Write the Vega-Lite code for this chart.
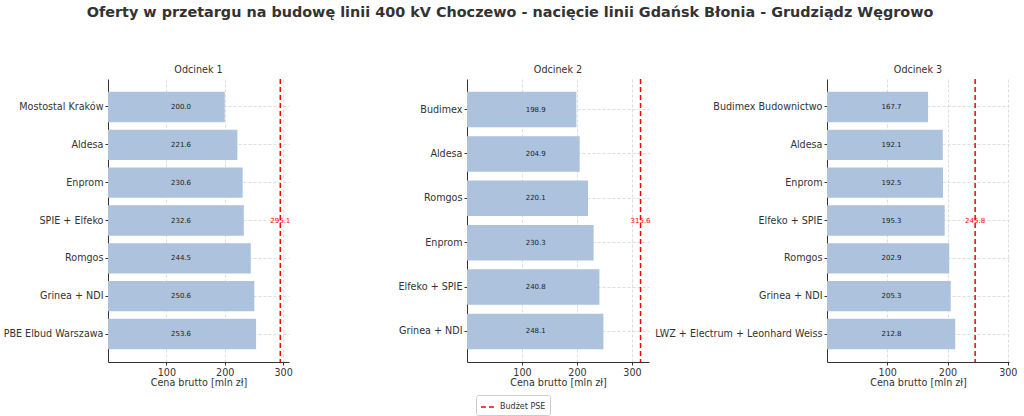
{
  "$schema": "https://vega.github.io/schema/vega-lite/v6.json",
  "padding": {"left": 3, "top": 5, "right": 5, "bottom": 5},
  "background": "white",
  "title": {
    "text": "Oferty w przetargu na budowę linii 400 kV Choczewo - nacięcie linii Gdańsk Błonia - Grudziądz Węgrowo",
    "fontSize": 14.4, "fontWeight": "bold", "font": "DejaVu Sans", "color": "#333333", "offset": 44, "anchor": "middle"
  },
  "config": {
    "font": "DejaVu Sans",
    "view": {"stroke": null},
    "title": {"fontSize": 9.6, "fontWeight": "normal", "color": "#333333", "font": "DejaVu Sans", "offset": 4},
    "axis": {
      "labelFont": "DejaVu Sans", "titleFont": "DejaVu Sans",
      "labelColor": "#333333", "titleColor": "#333333",
      "domainColor": "#333333", "tickColor": "#333333",
      "gridColor": "#dddddd", "gridDash": [3, 2],
      "labelFontSize": 9.6, "titleFontSize": 9.6, "titleFontWeight": "normal",
      "tickSize": 3, "labelPadding": 2, "titlePadding": 1
    },
    "legend": {
      "labelFont": "DejaVu Sans", "labelFontSize": 8, "labelColor": "#333333",
      "strokeColor": "#cccccc", "padding": 4, "cornerRadius": 2,
      "symbolStrokeWidth": 1.5, "symbolSize": 200
    }
  },
  "datasets": {
    "oferty": [
      {"odcinek": "Odcinek 1", "firma": "Mostostal Kraków", "cena": 200.0},
      {"odcinek": "Odcinek 1", "firma": "Aldesa", "cena": 221.6},
      {"odcinek": "Odcinek 1", "firma": "Enprom", "cena": 230.6},
      {"odcinek": "Odcinek 1", "firma": "SPIE + Elfeko", "cena": 232.6},
      {"odcinek": "Odcinek 1", "firma": "Romgos", "cena": 244.5},
      {"odcinek": "Odcinek 1", "firma": "Grinea + NDI", "cena": 250.6},
      {"odcinek": "Odcinek 1", "firma": "PBE Elbud Warszawa", "cena": 253.6},
      {"odcinek": "Odcinek 2", "firma": "Budimex", "cena": 198.9},
      {"odcinek": "Odcinek 2", "firma": "Aldesa", "cena": 204.9},
      {"odcinek": "Odcinek 2", "firma": "Romgos", "cena": 220.1},
      {"odcinek": "Odcinek 2", "firma": "Enprom", "cena": 230.3},
      {"odcinek": "Odcinek 2", "firma": "Elfeko + SPIE", "cena": 240.8},
      {"odcinek": "Odcinek 2", "firma": "Grinea + NDI", "cena": 248.1},
      {"odcinek": "Odcinek 3", "firma": "Budimex Budownictwo", "cena": 167.7},
      {"odcinek": "Odcinek 3", "firma": "Aldesa", "cena": 192.1},
      {"odcinek": "Odcinek 3", "firma": "Enprom", "cena": 192.5},
      {"odcinek": "Odcinek 3", "firma": "Elfeko + SPIE", "cena": 195.3},
      {"odcinek": "Odcinek 3", "firma": "Romgos", "cena": 202.9},
      {"odcinek": "Odcinek 3", "firma": "Grinea + NDI", "cena": 205.3},
      {"odcinek": "Odcinek 3", "firma": "LWZ + Electrum + Leonhard Weiss", "cena": 212.8}
    ],
    "budzet": [
      {"odcinek": "Odcinek 1", "budzet": 295.1},
      {"odcinek": "Odcinek 2", "budzet": 315.6},
      {"odcinek": "Odcinek 3", "budzet": 245.8}
    ]
  },
  "spacing": 178,
  "bounds": "flush",
  "resolve": {"scale": {"x": "independent", "y": "independent", "color": "shared", "strokeDash": "shared"}},
  "hconcat": [
    {
      "width": 181, "height": 283,
      "title": "Odcinek 1",
      "layer": [
        {
          "data": {"name": "oferty"},
          "transform": [{"filter": "datum.odcinek == 'Odcinek 1'"}],
          "mark": {"type": "bar", "color": "#adc2dd"},
          "encoding": {
            "y": {"field": "firma", "type": "nominal", "sort": {"field": "cena", "order": "ascending"},
                  "scale": {"paddingInner": 0.2, "paddingOuter": 0.34},
                  "axis": {"title": null, "grid": true, "labelLimit": 260}},
            "x": {"field": "cena", "type": "quantitative", "scale": {"domain": [0, 310], "nice": false},
                  "axis": {"title": "Cena brutto [mln zł]", "values": [100, 200, 300], "grid": true}}
          }
        },
        {
          "data": {"name": "oferty"},
          "transform": [{"filter": "datum.odcinek == 'Odcinek 1'"}],
          "mark": {"type": "text", "fontSize": 7, "color": "#222222", "align": "center", "baseline": "middle"},
          "encoding": {
            "y": {"field": "firma", "type": "nominal", "sort": {"field": "cena", "order": "ascending"}},
            "x": {"datum": 125},
            "text": {"field": "cena", "type": "quantitative", "format": ".1f"}
          }
        },
        {
          "data": {"name": "budzet"},
          "transform": [{"filter": "datum.odcinek == 'Odcinek 1'"}],
          "mark": {"type": "rule", "strokeWidth": 1.5},
          "encoding": {
            "x": {"field": "budzet", "type": "quantitative"},
            "color": {"datum": "Budżet PSE", "type": "nominal", "scale": {"range": ["#ff0000"]}, "legend": {"title": null, "orient": "none", "legendX": 368, "legendY": 316}},
            "strokeDash": {"datum": "Budżet PSE", "type": "nominal", "scale": {"range": [[5, 3]]}, "legend": {"title": null, "orient": "none", "legendX": 368, "legendY": 316}}
          }
        },
        {
          "data": {"name": "budzet"},
          "transform": [{"filter": "datum.odcinek == 'Odcinek 1'"}],
          "mark": {"type": "text", "fontSize": 7, "color": "#ff0000", "align": "center", "baseline": "middle"},
          "encoding": {
            "x": {"field": "budzet", "type": "quantitative"},
            "text": {"field": "budzet", "type": "quantitative", "format": ".1f"}
          }
        }
      ]
    },
    {
      "width": 182, "height": 283,
      "title": "Odcinek 2",
      "layer": [
        {
          "data": {"name": "oferty"},
          "transform": [{"filter": "datum.odcinek == 'Odcinek 2'"}],
          "mark": {"type": "bar", "color": "#adc2dd"},
          "encoding": {
            "y": {"field": "firma", "type": "nominal", "sort": {"field": "cena", "order": "ascending"},
                  "scale": {"paddingInner": 0.2, "paddingOuter": 0.29},
                  "axis": {"title": null, "grid": true, "labelLimit": 260}},
            "x": {"field": "cena", "type": "quantitative", "scale": {"domain": [0, 331], "nice": false},
                  "axis": {"title": "Cena brutto [mln zł]", "values": [100, 200, 300], "grid": true}}
          }
        },
        {
          "data": {"name": "oferty"},
          "transform": [{"filter": "datum.odcinek == 'Odcinek 2'"}],
          "mark": {"type": "text", "fontSize": 7, "color": "#222222", "align": "center", "baseline": "middle"},
          "encoding": {
            "y": {"field": "firma", "type": "nominal", "sort": {"field": "cena", "order": "ascending"}},
            "x": {"datum": 125},
            "text": {"field": "cena", "type": "quantitative", "format": ".1f"}
          }
        },
        {
          "data": {"name": "budzet"},
          "transform": [{"filter": "datum.odcinek == 'Odcinek 2'"}],
          "mark": {"type": "rule", "strokeWidth": 1.5},
          "encoding": {
            "x": {"field": "budzet", "type": "quantitative"},
            "color": {"datum": "Budżet PSE", "type": "nominal"},
            "strokeDash": {"datum": "Budżet PSE", "type": "nominal"}
          }
        },
        {
          "data": {"name": "budzet"},
          "transform": [{"filter": "datum.odcinek == 'Odcinek 2'"}],
          "mark": {"type": "text", "fontSize": 7, "color": "#ff0000", "align": "center", "baseline": "middle"},
          "encoding": {
            "x": {"field": "budzet", "type": "quantitative"},
            "text": {"field": "budzet", "type": "quantitative", "format": ".1f"}
          }
        }
      ]
    },
    {
      "width": 182, "height": 283,
      "title": "Odcinek 3",
      "layer": [
        {
          "data": {"name": "oferty"},
          "transform": [{"filter": "datum.odcinek == 'Odcinek 3'"}],
          "mark": {"type": "bar", "color": "#adc2dd"},
          "encoding": {
            "y": {"field": "firma", "type": "nominal", "sort": {"field": "cena", "order": "ascending"},
                  "scale": {"paddingInner": 0.2, "paddingOuter": 0.34},
                  "axis": {"title": null, "grid": true, "labelLimit": 260}},
            "x": {"field": "cena", "type": "quantitative", "scale": {"domain": [0, 302], "nice": false},
                  "axis": {"title": "Cena brutto [mln zł]", "values": [100, 200, 300], "grid": true}}
          }
        },
        {
          "data": {"name": "oferty"},
          "transform": [{"filter": "datum.odcinek == 'Odcinek 3'"}],
          "mark": {"type": "text", "fontSize": 7, "color": "#222222", "align": "center", "baseline": "middle"},
          "encoding": {
            "y": {"field": "firma", "type": "nominal", "sort": {"field": "cena", "order": "ascending"}},
            "x": {"datum": 107},
            "text": {"field": "cena", "type": "quantitative", "format": ".1f"}
          }
        },
        {
          "data": {"name": "budzet"},
          "transform": [{"filter": "datum.odcinek == 'Odcinek 3'"}],
          "mark": {"type": "rule", "strokeWidth": 1.5},
          "encoding": {
            "x": {"field": "budzet", "type": "quantitative"},
            "color": {"datum": "Budżet PSE", "type": "nominal"},
            "strokeDash": {"datum": "Budżet PSE", "type": "nominal"}
          }
        },
        {
          "data": {"name": "budzet"},
          "transform": [{"filter": "datum.odcinek == 'Odcinek 3'"}],
          "mark": {"type": "text", "fontSize": 7, "color": "#ff0000", "align": "center", "baseline": "middle"},
          "encoding": {
            "x": {"field": "budzet", "type": "quantitative"},
            "text": {"field": "budzet", "type": "quantitative", "format": ".1f"}
          }
        }
      ]
    }
  ]
}
